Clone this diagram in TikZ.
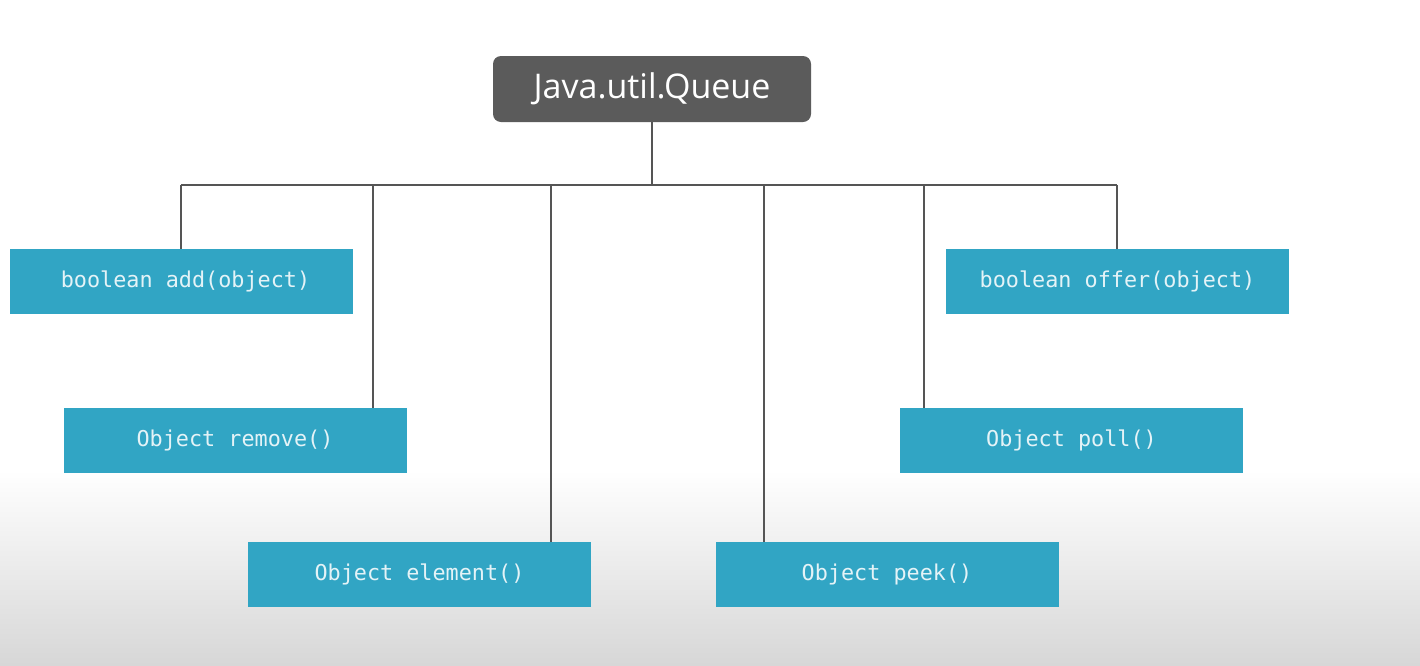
\documentclass[tikz,border=0pt]{standalone}
\usepackage{fontspec}
\setmainfont{Open Sans}
\newfontfamily\codefont{DejaVu Sans Mono}
\definecolor{boxblue}{HTML}{31A5C4}
\definecolor{boxtext}{HTML}{E4F3F7}
\definecolor{titlegray}{HTML}{5B5B5B}
\definecolor{linegray}{HTML}{555555}
\definecolor{bottomgray}{HTML}{D7D7D7}
\tikzset{
  method/.style={fill=boxblue, draw=none, minimum width=343pt, minimum height=65pt,
    inner sep=0pt, text=boxtext, font=\codefont\fontsize{21.8}{26}\selectfont},
  titlebox/.style={fill=titlegray, draw=none, rounded corners=8pt, minimum width=318pt,
    minimum height=66pt, inner sep=0pt, text height=24pt, text depth=6pt,
    text=white, font=\fontsize{34}{40}\selectfont},
  conn/.style={draw=linegray, line width=2pt}
}
\begin{document}
\begin{tikzpicture}[x=1pt,y=-1pt]
\useasboundingbox (0,0) rectangle (1420,665);
\fill[white] (0,0) rectangle (1420,471);
\shade[top color=white, bottom color=bottomgray] (0,470) rectangle (1420,665);
\node[titlebox] (q) at (652,89) {Java.util.Queue};
\node[method] (add) at (181.5,281.5) {\hspace*{8pt}boolean add(object)};
\node[method] (rem) at (235,440.5) {Object remove()};
\node[method] (elem) at (419.5,574.5) {Object element()};
\node[method] (peek) at (887,574.5) {Object peek()};
\node[method] (poll) at (1071.5,440.5) {Object poll()};
\node[method] (offer) at (1117.5,281.5) {boolean offer(object)};
\coordinate (hub) at (652,185);
\coordinate (left) at (181,185);
\coordinate (right) at (1117,185);
\draw[conn] (q.south) -- (hub);
\draw[conn] (left) -- (right);
\draw[conn] (add.north -| left) -- (left);
\draw[conn] (rem.north -| 373,0) -- (373,185);
\draw[conn] (elem.north -| 551,0) -- (551,185);
\draw[conn] (peek.north -| 764,0) -- (764,185);
\draw[conn] (poll.north -| 924,0) -- (924,185);
\draw[conn] (offer.north -| right) -- (right);
\end{tikzpicture}
\end{document}
